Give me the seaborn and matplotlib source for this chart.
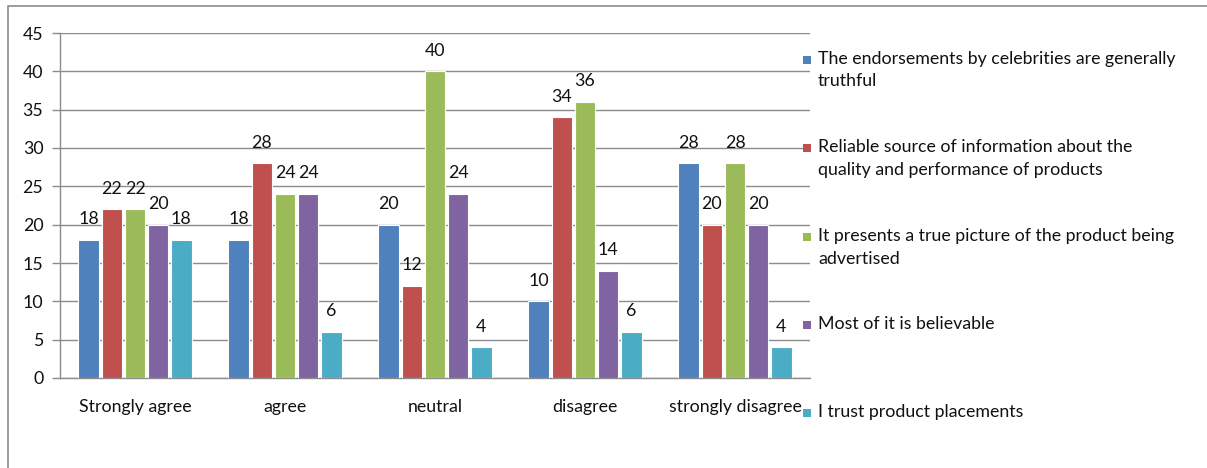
import matplotlib
matplotlib.use("Agg")
import matplotlib.pyplot as plt
from matplotlib.patches import Rectangle
import seaborn as sns
import pandas as pd

# Survey responses per statement
responses = ["Strongly agree", "agree", "neutral", "disagree", "strongly disagree"]
statements = [
    "The endorsements by celebrities are generally\ntruthful",
    "Reliable source of information about the\nquality and performance of products",
    "It presents a true picture of the product being\nadvertised",
    "Most of it is believable",
    "I trust product placements",
]
endorsements_truthful = [18, 18, 20, 10, 28]
reliable_source = [22, 28, 12, 34, 20]
true_picture = [22, 24, 40, 36, 28]
believable = [20, 24, 24, 14, 20]
product_placements = [18, 6, 4, 6, 4]
series_values = [endorsements_truthful, reliable_source, true_picture,
                 believable, product_placements]
y_ticks = [0, 5, 10, 15, 20, 25, 30, 35, 40, 45]

colors = ["#4F81BD", "#C0504D", "#9BBB59", "#8064A2", "#4BACC6"]
grid_grey = "#8C8C8C"
text_color = "#111111"
fs = 12.8

rows = []
for stmt, vals in zip(statements, series_values):
    for resp, v in zip(responses, vals):
        rows.append({"response": resp, "statement": stmt, "value": v})
df = pd.DataFrame(rows)

sns.set_theme(style="white")
plt.rcParams["font.family"] = ["Lato", "DejaVu Sans"]

W, H = 1207, 468
fig = plt.figure(figsize=(W / 100, H / 100), dpi=100)
ax = fig.add_axes([60 / W, 1 - 378 / H, 750 / W, 345 / H])

sns.barplot(data=df, x="response", y="value", hue="statement",
            order=responses, hue_order=statements, palette=colors,
            saturation=1, width=0.77, gap=0.1, edgecolor="white",
            linewidth=0.8, legend=False, ax=ax, zorder=3)

for cont in ax.containers:
    ax.bar_label(cont, padding=9, fontsize=fs, color=text_color)

ax.set_ylim(0, 45)
ax.set_xlim(-0.5, 4.5)
ax.set_yticks(y_ticks)
ax.set_xlabel("")
ax.set_ylabel("")

ax.yaxis.grid(True, color=grid_grey, linewidth=1)
ax.set_axisbelow(True)
for side in ["top", "right"]:
    ax.spines[side].set_visible(False)
for side in ["left", "bottom"]:
    ax.spines[side].set_color(grid_grey)
    ax.spines[side].set_linewidth(1)

ax.tick_params(axis="y", direction="out", length=6, width=1, color=grid_grey,
               labelsize=fs, pad=6, left=True, labelcolor=text_color)
ax.set_xticks([i - 0.5 for i in range(len(responses) + 1)], minor=True)
ax.tick_params(axis="x", which="minor", direction="out", length=5, width=1,
               color=grid_grey)
ax.tick_params(axis="x", which="major", length=0, pad=15, labelsize=fs,
               labelcolor=text_color)

# Legend: square key aligned with the first line of each label
key_y = [60, 148, 237, 325, 413]
for c, label, yk in zip(colors, statements, key_y):
    fig.add_artist(Rectangle((803 / W, 1 - (yk + 4) / H), 8 / W, 8 / H,
                             transform=fig.transFigure, facecolor=c,
                             edgecolor="none"))
    fig.text(818 / W, 1 - (yk - 9) / H, label, fontsize=fs, va="top",
             ha="left", color=text_color, linespacing=1.5)

# Chart frame
fig.add_artist(Rectangle((8 / W, -0.1), 1.2, 1 - 6 / H + 0.1,
                         transform=fig.transFigure, fill=False,
                         edgecolor=grid_grey, linewidth=1.2))

fig.savefig("out.png", dpi=100)
